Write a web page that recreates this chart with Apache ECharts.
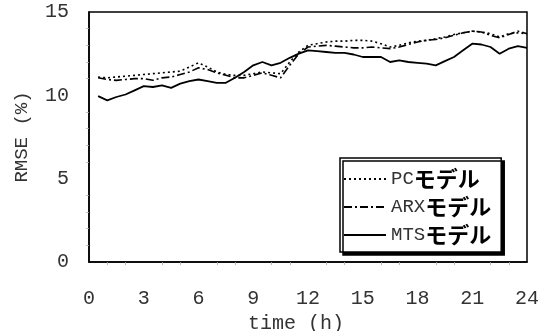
<!DOCTYPE html>
<html>
<head>
<meta charset="utf-8">
<script src="https://cdn.jsdelivr.net/npm/echarts@6/dist/echarts.min.js"></script>
<style>
  html, body { margin: 0; padding: 0; background: #fff; }
  #chart { width: 545px; height: 331px; }
</style>
</head>
<body>
<div id="chart"></div>
<script>
// Hour of day for each sample (half-hour steps)
var hours = [0.5,1,1.5,2,2.5,3,3.5,4,4.5,5,5.5,6,6.5,7,7.5,8,8.5,9,9.5,10,10.5,11,11.5,12,
             12.5,13,13.5,14,14.5,15,15.5,16,16.5,17,17.5,18,18.5,19,19.5,20,20.5,21,21.5,22,22.5,23,23.5,24];

// RMSE (%) per model
var pcRmse = [11.1,11.05,11.1,11.15,11.2,11.25,11.3,11.35,11.4,11.45,11.7,11.95,11.7,11.4,11.25,11.2,11.2,11.3,11.4,11.35,11.3,12.0,12.6,13.0,
              13.1,13.2,13.25,13.25,13.3,13.3,13.25,13.1,12.9,13.0,13.15,13.25,13.3,13.4,13.5,13.65,13.75,13.85,13.8,13.7,13.5,13.7,13.75,13.7];
var arxRmse = [11.05,10.95,10.9,10.95,11.0,11.0,10.9,11.05,11.1,11.25,11.4,11.65,11.55,11.35,11.2,11.05,11.05,11.2,11.35,11.2,11.05,11.8,12.5,12.9,
               12.95,13.0,12.95,12.9,12.85,12.85,12.9,12.85,12.8,12.9,13.05,13.2,13.3,13.35,13.45,13.6,13.75,13.85,13.8,13.6,13.45,13.65,13.85,13.7];
var mtsRmse = [9.95,9.7,9.9,10.05,10.3,10.55,10.5,10.6,10.45,10.7,10.85,10.95,10.85,10.75,10.75,11.05,11.4,11.8,12.0,11.8,11.95,12.25,12.5,12.7,
               12.65,12.6,12.55,12.55,12.45,12.3,12.3,12.3,12.0,12.1,12.0,11.95,11.9,11.8,12.05,12.3,12.7,13.1,13.05,12.9,12.5,12.8,12.95,12.85];

var seriesNames = ['PCモデル', 'ARXモデル', 'MTSモデル'];
var xTicks = { min: 0, max: 24, step: 3 };
var yTicks = { min: 0, max: 15, step: 5 };

function pairs(ys) {
  return hours.map(function (h, i) { return [h, ys[i]]; });
}

var mono = 'Liberation Mono';
var textColor = '#333';
var chart = echarts.init(document.getElementById('chart'), null, { renderer: 'canvas' });

chart.setOption({
  animation: false,
  backgroundColor: '#fff',
  grid: {
    left: 89, right: 18, top: 12, bottom: 69,
    outerBoundsMode: 'none',
    show: true, borderColor: '#000', borderWidth: 1.5, backgroundColor: 'transparent'
  },
  xAxis: {
    type: 'value',
    min: xTicks.min, max: xTicks.max, interval: xTicks.step,
    name: 'time (h)',
    nameLocation: 'middle',
    nameGap: 42,
    nameTextStyle: { fontFamily: mono, fontSize: 20, color: textColor, padding: [0, 24, 0, 0] },
    axisLine: { show: true, lineStyle: { color: '#000', width: 1.5 } },
    axisTick: { show: false },
    minorTick: { show: true, splitNumber: 3, length: 3, lineStyle: { color: '#aaa', width: 0.8 } },
    splitLine: { show: false },
    axisLabel: { fontFamily: mono, fontSize: 20, color: textColor, margin: 27 }
  },
  yAxis: {
    type: 'value',
    min: yTicks.min, max: yTicks.max, interval: yTicks.step,
    name: 'RMSE (%)',
    nameLocation: 'middle',
    nameGap: 58,
    nameRotate: 90,
    nameTextStyle: { fontFamily: mono, fontSize: 19, color: textColor },
    axisLine: { show: true, lineStyle: { color: '#000', width: 1.5 } },
    axisTick: { show: false },
    minorTick: { show: true, splitNumber: 5, length: 3, lineStyle: { color: '#aaa', width: 0.8 } },
    splitLine: { show: false },
    axisLabel: { fontFamily: mono, fontSize: 20, color: textColor, margin: 20 }
  },
  legend: {
    orient: 'vertical',
    left: 340, top: 158,
    padding: [10, 10, 6, 3],
    itemGap: 6,
    itemWidth: 42,
    itemHeight: 20,
    backgroundColor: '#fff',
    borderColor: '#000',
    borderWidth: 1.5,
    shadowColor: '#000',
    shadowBlur: 0,
    shadowOffsetX: 3,
    shadowOffsetY: 3,
    itemStyle: { opacity: 0 },
    data: seriesNames,
    formatter: function (name) {
      return '{m|' + name.replace('モデル', '') + '}{j|モデル}';
    },
    textStyle: {
      rich: {
        m: { fontFamily: mono, fontSize: 19, color: textColor, lineHeight: 20 },
        j: { fontFamily: 'Noto Sans CJK JP', fontWeight: 'bold', fontSize: 22, color: '#000', lineHeight: 20 }
      }
    }
  },
  series: [
    {
      name: seriesNames[0], type: 'line', data: pairs(pcRmse),
      symbol: 'none', z: 3,
      lineStyle: { color: '#000', width: 1.6, type: [2, 3] },
      itemStyle: { color: '#000' }
    },
    {
      name: seriesNames[1], type: 'line', data: pairs(arxRmse),
      symbol: 'none', z: 3,
      lineStyle: { color: '#000', width: 1.6, type: [8, 3, 2, 3] },
      itemStyle: { color: '#000' }
    },
    {
      name: seriesNames[2], type: 'line', data: pairs(mtsRmse),
      symbol: 'none', z: 3,
      lineStyle: { color: '#000', width: 1.8, type: 'solid' },
      itemStyle: { color: '#000' }
    }
  ]
});
</script>
</body>
</html>
